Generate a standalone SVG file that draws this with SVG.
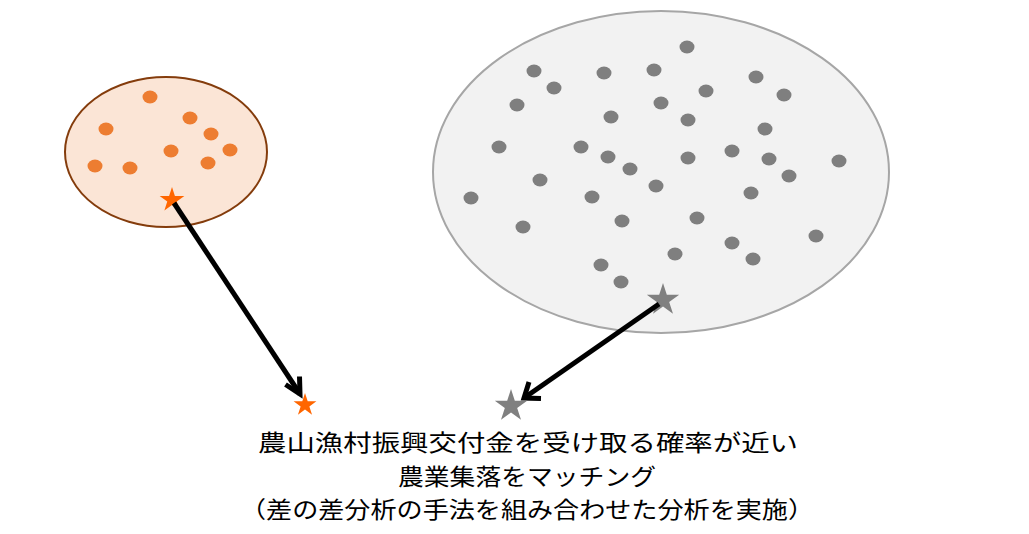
<svg xmlns="http://www.w3.org/2000/svg" width="1029" height="534" viewBox="0 0 1029 534">
<defs>
<style>
.od{fill:#ed7d31}
.gd{fill:#7f7f7f}
.conn{stroke:#000;stroke-width:5;fill:none;stroke-linecap:butt}
.head{stroke:#000;stroke-width:5;fill:none;stroke-linejoin:miter}
.t{font-family:"Noto Sans CJK JP","Noto Sans CJK SC",sans-serif;font-size:23px;fill:#000;text-anchor:middle}
</style>
<polygon id="star" points="0,-1 0.2245,-0.309 0.9511,-0.309 0.3633,0.118 0.5878,0.809 0,0.382 -0.5878,0.809 -0.3633,0.118 -0.9511,-0.309 -0.2245,-0.309"/>
</defs>
<rect width="1029" height="534" fill="#fff"/>
<g id="group-orange">
<ellipse cx="166" cy="152" rx="101" ry="75" fill="#fbe5d6" stroke="#843c0c" stroke-width="2"/>
<ellipse class="od" cx="150" cy="97" rx="7.5" ry="6.5"/>
<ellipse class="od" cx="106" cy="129" rx="7.5" ry="6.5"/>
<ellipse class="od" cx="190" cy="118" rx="7.5" ry="6.5"/>
<ellipse class="od" cx="211" cy="134" rx="7.5" ry="6.5"/>
<ellipse class="od" cx="230" cy="150" rx="7.5" ry="6.5"/>
<ellipse class="od" cx="171" cy="151" rx="7.5" ry="6.5"/>
<ellipse class="od" cx="208" cy="163" rx="7.5" ry="6.5"/>
<ellipse class="od" cx="95" cy="166" rx="7.5" ry="6.5"/>
<ellipse class="od" cx="130" cy="168" rx="7.5" ry="6.5"/>
<use href="#star" transform="translate(172,200) scale(13)" fill="#ff6600"/>
</g>
<g id="group-gray">
<ellipse cx="661" cy="172" rx="228" ry="161" fill="#f2f2f2" stroke="#a6a6a6" stroke-width="2"/>
<g class="gd">
<ellipse cx="687" cy="47" rx="7.5" ry="6.5"/>
<ellipse cx="534" cy="71" rx="7.5" ry="6.5"/>
<ellipse cx="604" cy="73" rx="7.5" ry="6.5"/>
<ellipse cx="654" cy="70" rx="7.5" ry="6.5"/>
<ellipse cx="554" cy="88" rx="7.5" ry="6.5"/>
<ellipse cx="756" cy="77" rx="7.5" ry="6.5"/>
<ellipse cx="517" cy="105" rx="7.5" ry="6.5"/>
<ellipse cx="706" cy="91" rx="7.5" ry="6.5"/>
<ellipse cx="661" cy="103" rx="7.5" ry="6.5"/>
<ellipse cx="784" cy="95" rx="7.5" ry="6.5"/>
<ellipse cx="611" cy="117" rx="7.5" ry="6.5"/>
<ellipse cx="688" cy="120" rx="7.5" ry="6.5"/>
<ellipse cx="765" cy="129" rx="7.5" ry="6.5"/>
<ellipse cx="499" cy="147" rx="7.5" ry="6.5"/>
<ellipse cx="581" cy="147" rx="7.5" ry="6.5"/>
<ellipse cx="608" cy="157" rx="7.5" ry="6.5"/>
<ellipse cx="688" cy="158" rx="7.5" ry="6.5"/>
<ellipse cx="732" cy="151" rx="7.5" ry="6.5"/>
<ellipse cx="769" cy="159" rx="7.5" ry="6.5"/>
<ellipse cx="839" cy="161" rx="7.5" ry="6.5"/>
<ellipse cx="630" cy="169" rx="7.5" ry="6.5"/>
<ellipse cx="789" cy="176" rx="7.5" ry="6.5"/>
<ellipse cx="540" cy="180" rx="7.5" ry="6.5"/>
<ellipse cx="656" cy="186" rx="7.5" ry="6.5"/>
<ellipse cx="751" cy="193" rx="7.5" ry="6.5"/>
<ellipse cx="471" cy="198" rx="7.5" ry="6.5"/>
<ellipse cx="592" cy="197" rx="7.5" ry="6.5"/>
<ellipse cx="697" cy="218" rx="7.5" ry="6.5"/>
<ellipse cx="622" cy="221" rx="7.5" ry="6.5"/>
<ellipse cx="523" cy="227" rx="7.5" ry="6.5"/>
<ellipse cx="816" cy="236" rx="7.5" ry="6.5"/>
<ellipse cx="732" cy="243" rx="7.5" ry="6.5"/>
<ellipse cx="675" cy="254" rx="7.5" ry="6.5"/>
<ellipse cx="753" cy="259" rx="7.5" ry="6.5"/>
<ellipse cx="601" cy="265" rx="7.5" ry="6.5"/>
<ellipse cx="621" cy="282" rx="7.5" ry="6.5"/>
</g>
<use href="#star" transform="translate(663,300) scale(17)" fill="#808080"/>
</g>
<g id="connectors">
<line class="conn" x1="174" y1="203" x2="300" y2="394"/>
<polyline class="head" points="285.5,384.5 300,394 299.5,376.5"/>
<line class="conn" x1="659" y1="304" x2="524" y2="398"/>
<polyline class="head" points="529,382 524,398 541,398.5"/>
</g>
<g id="match-orange"><use href="#star" transform="translate(305,405) scale(12)" fill="#ff6600"/></g>
<g id="match-gray"><use href="#star" transform="translate(511,406) scale(17)" fill="#808080"/></g>
<g id="caption">
<text class="t" x="528" y="451" textLength="540" lengthAdjust="spacingAndGlyphs">農山漁村振興交付金を受け取る確率が近い</text>
<text class="t" x="527" y="484.5" textLength="258" lengthAdjust="spacingAndGlyphs">農業集落をマッチング</text>
<text class="t" x="527" y="518" textLength="574" lengthAdjust="spacingAndGlyphs">（差の差分析の手法を組み合わせた分析を実施）</text>
</g>
</svg>
